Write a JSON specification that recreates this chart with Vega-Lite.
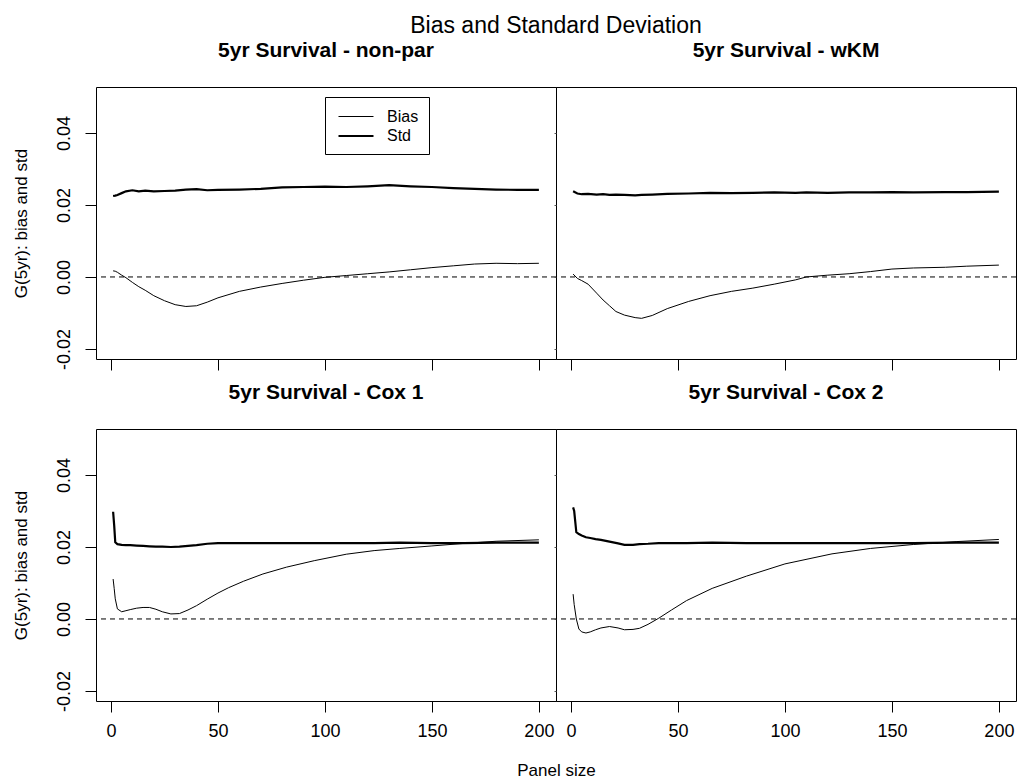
{
  "$schema": "https://vega.github.io/schema/vega-lite/v6.json",
  "padding": {"left": 11, "top": 14, "right": 0, "bottom": 0},
  "background": "white",
  "title": {"text": "Bias and Standard Deviation", "font": "Liberation Sans", "fontSize": 23, "fontWeight": "normal", "anchor": "middle", "frame": "group", "color": "black", "baseline": "alphabetic", "offset": -16, "dx": 460},
  "config": {
    "view": {"stroke": "black", "strokeWidth": 1},
    "axis": {"grid": false, "domain": false, "tickColor": "black", "tickSize": 11, "tickWidth": 1, "labelFont": "Liberation Sans", "labelFontSize": 18, "labelColor": "black", "titleFont": "Liberation Sans", "titleFontSize": 17, "titleFontWeight": "normal", "titleColor": "black", "labelFlush": false, "labelOverlap": false},
    "title": {"font": "Liberation Sans", "fontSize": 21, "fontWeight": "bold", "color": "black", "anchor": "middle", "baseline": "alphabetic", "offset": 26}
  },
  "datasets": {
    "np": [
      {"n": 1, "Bias": 0.0017, "Std": 0.0225}, {"n": 2, "Bias": 0.0016, "Std": 0.0226}, {"n": 3, "Bias": 0.0013, "Std": 0.0228},
      {"n": 5, "Bias": 0.0005, "Std": 0.0233}, {"n": 7, "Bias": -0.0002, "Std": 0.0238}, {"n": 10, "Bias": -0.0015, "Std": 0.0241},
      {"n": 13, "Bias": -0.0027, "Std": 0.0238}, {"n": 16, "Bias": -0.0037, "Std": 0.024}, {"n": 20, "Bias": -0.0052, "Std": 0.0238},
      {"n": 25, "Bias": -0.0066, "Std": 0.0239}, {"n": 30, "Bias": -0.0077, "Std": 0.024}, {"n": 35, "Bias": -0.0082, "Std": 0.0243},
      {"n": 40, "Bias": -0.008, "Std": 0.0244}, {"n": 45, "Bias": -0.007, "Std": 0.0241}, {"n": 50, "Bias": -0.0058, "Std": 0.0242},
      {"n": 60, "Bias": -0.004, "Std": 0.0243}, {"n": 70, "Bias": -0.0028, "Std": 0.0245}, {"n": 80, "Bias": -0.0018, "Std": 0.0249},
      {"n": 90, "Bias": -0.0009, "Std": 0.025}, {"n": 100, "Bias": -0.0001, "Std": 0.0251}, {"n": 110, "Bias": 0.0004, "Std": 0.025},
      {"n": 120, "Bias": 0.0009, "Std": 0.0252}, {"n": 130, "Bias": 0.0014, "Std": 0.0255}, {"n": 140, "Bias": 0.002, "Std": 0.0252},
      {"n": 150, "Bias": 0.0026, "Std": 0.025}, {"n": 160, "Bias": 0.0031, "Std": 0.0247}, {"n": 170, "Bias": 0.0036, "Std": 0.0245},
      {"n": 180, "Bias": 0.0038, "Std": 0.0243}, {"n": 190, "Bias": 0.0037, "Std": 0.0242}, {"n": 200, "Bias": 0.0038, "Std": 0.0242}
    ],
    "wkm": [
      {"n": 1, "Bias": 0.0008, "Std": 0.0238}, {"n": 3, "Bias": -0.0004, "Std": 0.0232}, {"n": 5, "Bias": -0.001, "Std": 0.023},
      {"n": 8, "Bias": -0.002, "Std": 0.0231}, {"n": 12, "Bias": -0.0045, "Std": 0.0229}, {"n": 15, "Bias": -0.0064, "Std": 0.023},
      {"n": 18, "Bias": -0.008, "Std": 0.0228}, {"n": 21, "Bias": -0.0096, "Std": 0.0229}, {"n": 25, "Bias": -0.0106, "Std": 0.0228},
      {"n": 30, "Bias": -0.0113, "Std": 0.0227}, {"n": 33, "Bias": -0.0115, "Std": 0.0228}, {"n": 38, "Bias": -0.0107, "Std": 0.0229},
      {"n": 45, "Bias": -0.0088, "Std": 0.0231}, {"n": 55, "Bias": -0.0068, "Std": 0.0232}, {"n": 65, "Bias": -0.0052, "Std": 0.0234},
      {"n": 75, "Bias": -0.004, "Std": 0.0233}, {"n": 85, "Bias": -0.0031, "Std": 0.0234}, {"n": 95, "Bias": -0.002, "Std": 0.0235},
      {"n": 105, "Bias": -0.0008, "Std": 0.0234}, {"n": 110, "Bias": 0.0, "Std": 0.0235}, {"n": 120, "Bias": 0.0005, "Std": 0.0234},
      {"n": 130, "Bias": 0.0009, "Std": 0.0235}, {"n": 140, "Bias": 0.0015, "Std": 0.0235}, {"n": 150, "Bias": 0.0022, "Std": 0.0236},
      {"n": 160, "Bias": 0.0025, "Std": 0.0235}, {"n": 175, "Bias": 0.0027, "Std": 0.0236}, {"n": 185, "Bias": 0.003, "Std": 0.0236},
      {"n": 200, "Bias": 0.0033, "Std": 0.0237}
    ],
    "cox1": [
      {"n": 1, "Bias": 0.0111, "Std": 0.0298}, {"n": 1.5, "Bias": 0.0085, "Std": 0.026}, {"n": 2, "Bias": 0.0056, "Std": 0.0213},
      {"n": 3, "Bias": 0.0028, "Std": 0.0208}, {"n": 5, "Bias": 0.002, "Std": 0.0206}, {"n": 7, "Bias": 0.0023, "Std": 0.0205},
      {"n": 9, "Bias": 0.0026, "Std": 0.0205}, {"n": 12, "Bias": 0.003, "Std": 0.0204}, {"n": 15, "Bias": 0.0032, "Std": 0.0203},
      {"n": 18, "Bias": 0.0032, "Std": 0.0202}, {"n": 21, "Bias": 0.0027, "Std": 0.0201}, {"n": 24, "Bias": 0.002, "Std": 0.0201},
      {"n": 28, "Bias": 0.0014, "Std": 0.02}, {"n": 32, "Bias": 0.0015, "Std": 0.0201}, {"n": 36, "Bias": 0.0025, "Std": 0.0203},
      {"n": 40, "Bias": 0.0037, "Std": 0.0205}, {"n": 45, "Bias": 0.0055, "Std": 0.0209}, {"n": 50, "Bias": 0.0072, "Std": 0.0211},
      {"n": 55, "Bias": 0.0087, "Std": 0.0211}, {"n": 62, "Bias": 0.0105, "Std": 0.0211}, {"n": 71, "Bias": 0.0125, "Std": 0.0211},
      {"n": 82, "Bias": 0.0144, "Std": 0.0211}, {"n": 95, "Bias": 0.0162, "Std": 0.0211}, {"n": 110, "Bias": 0.018, "Std": 0.0211},
      {"n": 123, "Bias": 0.019, "Std": 0.0211}, {"n": 135, "Bias": 0.0196, "Std": 0.0212}, {"n": 150, "Bias": 0.0203, "Std": 0.0211},
      {"n": 165, "Bias": 0.021, "Std": 0.0211}, {"n": 180, "Bias": 0.0216, "Std": 0.0212}, {"n": 200, "Bias": 0.022, "Std": 0.0212}
    ],
    "cox2": [
      {"n": 1, "Bias": 0.0069, "Std": 0.031}, {"n": 1.5, "Bias": 0.004, "Std": 0.03}, {"n": 2.5, "Bias": 0.0, "Std": 0.0241},
      {"n": 3.7, "Bias": -0.0028, "Std": 0.0236}, {"n": 5, "Bias": -0.0036, "Std": 0.0232}, {"n": 7, "Bias": -0.0039, "Std": 0.0227},
      {"n": 9, "Bias": -0.0036, "Std": 0.0225}, {"n": 11.5, "Bias": -0.003, "Std": 0.0222}, {"n": 14, "Bias": -0.0025, "Std": 0.022},
      {"n": 18, "Bias": -0.0021, "Std": 0.0215}, {"n": 22, "Bias": -0.0025, "Std": 0.021}, {"n": 25, "Bias": -0.003, "Std": 0.0206},
      {"n": 29, "Bias": -0.0029, "Std": 0.0206}, {"n": 32, "Bias": -0.0026, "Std": 0.0208}, {"n": 36, "Bias": -0.0015, "Std": 0.0209},
      {"n": 41, "Bias": 0.0002, "Std": 0.0211}, {"n": 47, "Bias": 0.0025, "Std": 0.0211}, {"n": 54, "Bias": 0.0051, "Std": 0.0211},
      {"n": 66, "Bias": 0.0085, "Std": 0.0212}, {"n": 82, "Bias": 0.0119, "Std": 0.0211}, {"n": 100, "Bias": 0.0153, "Std": 0.0211},
      {"n": 122, "Bias": 0.0181, "Std": 0.0211}, {"n": 140, "Bias": 0.0196, "Std": 0.0211}, {"n": 160, "Bias": 0.0207, "Std": 0.0211},
      {"n": 180, "Bias": 0.0215, "Std": 0.0212}, {"n": 200, "Bias": 0.0221, "Std": 0.0212}
    ],
    "zero": [{"z": 0}]
  },
  "spacing": 10,
  "vconcat": [
    {
      "spacing": 0,
      "bounds": "flush",
      "hconcat": [
        {
          "width": 460, "height": 272,
          "title": {"text": "5yr Survival - non-par"},
          "data": {"name": "np"},
          "transform": [{"fold": ["Bias", "Std"], "as": ["series", "value"]}],
          "layer": [
            {
              "mark": {"type": "line", "color": "black", "interpolate": "linear"},
              "encoding": {
                "x": {"field": "n", "type": "quantitative", "scale": {"domain": [-7, 208], "nice": false, "zero": false}, "axis": {"values": [0, 50, 100, 150, 200], "labels": false, "title": null}},
                "y": {"field": "value", "type": "quantitative", "scale": {"domain": [-0.0228, 0.0528], "nice": false, "zero": false},
                      "axis": {"values": [-0.02, -0.01, 0, 0.01, 0.02, 0.03, 0.04, 0.05], "labelExpr": "abs(round(datum.value*100)) % 2 == 0 ? replace(format(datum.value, '.2f'), '−', '-') : ''", "labelAngle": -90, "labelAlign": "center", "labelBaseline": "alphabetic", "labelPadding": 16, "title": "G(5yr):  bias and std", "titleX": -75, "titleY": 136, "titleAngle": -90, "titleAlign": "center", "titleBaseline": "middle"}},
                "strokeWidth": {"field": "series", "type": "nominal", "scale": {"domain": ["Bias", "Std"], "range": [1, 2.2]},
                      "legend": {"title": null, "orient": "none", "legendX": 229, "legendY": 10, "strokeColor": "black", "fillColor": "white", "padding": 10, "symbolType": "M-2,0L2,0", "symbolSize": 306, "symbolOffset": 11, "symbolStrokeColor": "black", "labelFont": "Liberation Sans", "labelFontSize": 16, "labelColor": "black", "labelOffset": 21, "rowPadding": 1, "cornerRadius": 0}}
              }
            },
            {
              "data": {"name": "zero"},
              "mark": {"type": "rule", "color": "black", "strokeDash": [5, 4], "strokeWidth": 1},
              "encoding": {"y": {"field": "z", "type": "quantitative"}}
            }
          ]
        },
        {
          "width": 460, "height": 272,
          "title": {"text": "5yr Survival - wKM"},
          "data": {"name": "wkm"},
          "transform": [{"fold": ["Bias", "Std"], "as": ["series", "value"]}],
          "layer": [
            {
              "mark": {"type": "line", "color": "black"},
              "encoding": {
                "x": {"field": "n", "type": "quantitative", "scale": {"domain": [-7, 208], "nice": false, "zero": false}, "axis": {"values": [0, 50, 100, 150, 200], "labels": false, "title": null}},
                "y": {"field": "value", "type": "quantitative", "scale": {"domain": [-0.0228, 0.0528], "nice": false, "zero": false}, "axis": {"values": [-0.02, -0.01, 0, 0.01, 0.02, 0.03, 0.04, 0.05], "labels": false, "title": null, "tickSize": 2, "tickColor": "#555555"}},
                "strokeWidth": {"field": "series", "type": "nominal", "scale": {"domain": ["Bias", "Std"], "range": [1, 2.2]}, "legend": null}
              }
            },
            {
              "data": {"name": "zero"},
              "mark": {"type": "rule", "color": "black", "strokeDash": [5, 4], "strokeWidth": 1},
              "encoding": {"y": {"field": "z", "type": "quantitative"}}
            }
          ]
        }
      ]
    },
    {
      "spacing": 0,
      "bounds": "flush",
      "hconcat": [
        {
          "width": 460, "height": 272,
          "title": {"text": "5yr Survival - Cox 1"},
          "data": {"name": "cox1"},
          "transform": [{"fold": ["Bias", "Std"], "as": ["series", "value"]}],
          "layer": [
            {
              "mark": {"type": "line", "color": "black"},
              "encoding": {
                "x": {"field": "n", "type": "quantitative", "scale": {"domain": [-7, 208], "nice": false, "zero": false},
                      "axis": {"values": [0, 50, 100, 150, 200], "labelPadding": 10, "title": "Panel size", "titleX": 460, "titleY": 69, "titleAlign": "center", "titleBaseline": "middle"}},
                "y": {"field": "value", "type": "quantitative", "scale": {"domain": [-0.0228, 0.0528], "nice": false, "zero": false},
                      "axis": {"values": [-0.02, -0.01, 0, 0.01, 0.02, 0.03, 0.04, 0.05], "labelExpr": "abs(round(datum.value*100)) % 2 == 0 ? replace(format(datum.value, '.2f'), '−', '-') : ''", "labelAngle": -90, "labelAlign": "center", "labelBaseline": "alphabetic", "labelPadding": 16, "title": "G(5yr):  bias and std", "titleX": -75, "titleY": 136, "titleAngle": -90, "titleAlign": "center", "titleBaseline": "middle"}},
                "strokeWidth": {"field": "series", "type": "nominal", "scale": {"domain": ["Bias", "Std"], "range": [1, 2.2]}, "legend": null}
              }
            },
            {
              "data": {"name": "zero"},
              "mark": {"type": "rule", "color": "black", "strokeDash": [5, 4], "strokeWidth": 1},
              "encoding": {"y": {"field": "z", "type": "quantitative"}}
            }
          ]
        },
        {
          "width": 460, "height": 272,
          "title": {"text": "5yr Survival - Cox 2"},
          "data": {"name": "cox2"},
          "transform": [{"fold": ["Bias", "Std"], "as": ["series", "value"]}],
          "layer": [
            {
              "mark": {"type": "line", "color": "black"},
              "encoding": {
                "x": {"field": "n", "type": "quantitative", "scale": {"domain": [-7, 208], "nice": false, "zero": false},
                      "axis": {"values": [0, 50, 100, 150, 200], "labelPadding": 10, "title": null}},
                "y": {"field": "value", "type": "quantitative", "scale": {"domain": [-0.0228, 0.0528], "nice": false, "zero": false}, "axis": {"values": [-0.02, -0.01, 0, 0.01, 0.02, 0.03, 0.04, 0.05], "labels": false, "title": null, "tickSize": 2, "tickColor": "#555555"}},
                "strokeWidth": {"field": "series", "type": "nominal", "scale": {"domain": ["Bias", "Std"], "range": [1, 2.2]}, "legend": null}
              }
            },
            {
              "data": {"name": "zero"},
              "mark": {"type": "rule", "color": "black", "strokeDash": [5, 4], "strokeWidth": 1},
              "encoding": {"y": {"field": "z", "type": "quantitative"}}
            }
          ]
        }
      ]
    }
  ]
}
